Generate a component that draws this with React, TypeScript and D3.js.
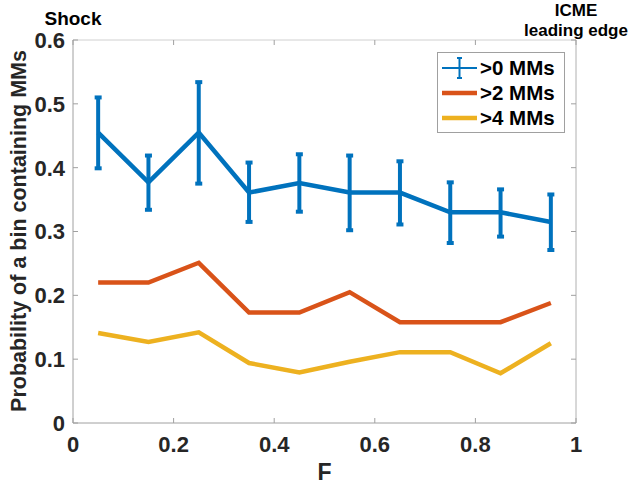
import React, { useEffect, useRef } from "react";
import * as d3 from "d3";

const fBins = [0.05, 0.15, 0.25, 0.35, 0.45, 0.55, 0.65, 0.75, 0.85, 0.95];
const mm0 = [0.455, 0.377, 0.455, 0.361, 0.376, 0.361, 0.361, 0.330, 0.330, 0.315];
const mm0Upper = [0.510, 0.419, 0.534, 0.408, 0.421, 0.419, 0.410, 0.377, 0.366, 0.358];
const mm0Lower = [0.399, 0.334, 0.375, 0.315, 0.331, 0.302, 0.311, 0.282, 0.292, 0.271];
const mm2 = [0.220, 0.220, 0.251, 0.173, 0.173, 0.205, 0.158, 0.158, 0.158, 0.188];
const mm4 = [0.141, 0.127, 0.142, 0.094, 0.079, 0.096, 0.111, 0.111, 0.078, 0.125];
const xTicks = [0, 0.2, 0.4, 0.6, 0.8, 1];
const yTicks = [0, 0.1, 0.2, 0.3, 0.4, 0.5, 0.6];
const legendLabels = [">0 MMs", ">2 MMs", ">4 MMs"];
const colors = ["#0072BD", "#D95319", "#EDB120"];

export default function App() {
  const ref = useRef<SVGSVGElement>(null);
  useEffect(() => {
    const svg = d3.select(ref.current);
    svg.selectAll("*").remove();
    const L = 73, R = 576, T = 40, B = 423;
    const x = d3.scaleLinear().domain([0, 1]).range([L, R]);
    const y = d3.scaleLinear().domain([0, 0.6]).range([B, T]);
    const font = "'Liberation Sans', Arial, Helvetica, sans-serif";
    const txt = "#262626";

    // axes box
    svg.append("line").attr("x1", L).attr("x2", R).attr("y1", T).attr("y2", T).attr("stroke", "#d0d0d0").attr("stroke-width", 1);
    svg.append("line").attr("x1", R).attr("x2", R).attr("y1", T).attr("y2", B).attr("stroke", "#b0b0b0").attr("stroke-width", 1);
    svg.append("line").attr("x1", L).attr("x2", R).attr("y1", B).attr("y2", B).attr("stroke", "#a0a0a0").attr("stroke-width", 1);
    svg.append("line").attr("x1", L).attr("x2", L).attr("y1", T).attr("y2", B).attr("stroke", "#a0a0a0").attr("stroke-width", 1);

    // ticks
    xTicks.forEach((t) => {
      svg.append("line").attr("x1", x(t)).attr("x2", x(t)).attr("y1", B).attr("y2", B - 5).attr("stroke", "#a0a0a0");
      svg.append("line").attr("x1", x(t)).attr("x2", x(t)).attr("y1", T).attr("y2", T + 5).attr("stroke", "#a0a0a0");
      svg.append("text").attr("x", x(t)).attr("y", 452).attr("text-anchor", "middle")
        .attr("font-family", font).attr("font-weight", "bold").attr("font-size", 22).attr("fill", txt)
        .text(String(t));
    });
    yTicks.forEach((t) => {
      svg.append("line").attr("x1", L).attr("x2", L + 5).attr("y1", y(t)).attr("y2", y(t)).attr("stroke", "#a0a0a0");
      svg.append("line").attr("x1", R).attr("x2", R - 5).attr("y1", y(t)).attr("y2", y(t)).attr("stroke", "#a0a0a0");
      svg.append("text").attr("x", 65).attr("y", y(t)).attr("dy", "0.36em").attr("text-anchor", "end")
        .attr("font-family", font).attr("font-weight", "bold").attr("font-size", 22).attr("fill", txt)
        .text(String(t));
    });

    // labels
    svg.append("text").attr("x", x(0.5)).attr("y", 480).attr("text-anchor", "middle")
      .attr("font-family", font).attr("font-weight", "bold").attr("font-size", 23).attr("fill", txt).text("F");
    svg.append("text").attr("transform", `translate(26,${(47 + 415) / 2}) rotate(-90)`).attr("text-anchor", "middle")
      .attr("font-family", font).attr("font-weight", "bold").attr("font-size", 21.5).attr("fill", txt)
      .text("Probability of a bin containing MMs");
    svg.append("text").attr("x", x(0)).attr("y", 25).attr("text-anchor", "middle")
      .attr("font-family", font).attr("font-weight", "bold").attr("font-size", 19).attr("fill", "#000").text("Shock");
    svg.append("text").attr("x", x(1)).attr("y", 16).attr("text-anchor", "middle")
      .attr("font-family", font).attr("font-weight", "bold").attr("font-size", 17).attr("fill", "#000").text("ICME");
    svg.append("text").attr("x", x(1)).attr("y", 35.5).attr("text-anchor", "middle")
      .attr("font-family", font).attr("font-weight", "bold").attr("font-size", 17).attr("fill", "#000").text("leading edge");

    const line = d3.line<number>().x((_, i) => x(fBins[i])).y((d) => y(d));
    svg.append("path").attr("d", line(mm4)).attr("fill", "none").attr("stroke", colors[2]).attr("stroke-width", 4.5).attr("stroke-linejoin", "miter");
    svg.append("path").attr("d", line(mm2)).attr("fill", "none").attr("stroke", colors[1]).attr("stroke-width", 4.5).attr("stroke-linejoin", "miter");

    // error bars
    const eb = svg.append("g").attr("stroke", colors[0]).attr("stroke-width", 4);
    fBins.forEach((f, i) => {
      eb.append("line").attr("x1", x(f)).attr("x2", x(f)).attr("y1", y(mm0Upper[i])).attr("y2", y(mm0Lower[i]));
      eb.append("line").attr("x1", x(f) - 3.5).attr("x2", x(f) + 3.5).attr("y1", y(mm0Upper[i])).attr("y2", y(mm0Upper[i]));
      eb.append("line").attr("x1", x(f) - 3.5).attr("x2", x(f) + 3.5).attr("y1", y(mm0Lower[i])).attr("y2", y(mm0Lower[i]));
    });
    svg.append("path").attr("d", line(mm0)).attr("fill", "none").attr("stroke", colors[0]).attr("stroke-width", 4.5).attr("stroke-linejoin", "miter");

    // legend
    const lg = svg.append("g");
    lg.append("rect").attr("x", 437.5).attr("y", 52.5).attr("width", 127).attr("height", 80)
      .attr("fill", "#fff").attr("stroke", "#a0a0a0").attr("stroke-width", 1);
    const rowsY = [68, 93, 118];
    legendLabels.forEach((lab, i) => {
      const ry = rowsY[i];
      lg.append("line").attr("x1", 442).attr("x2", 477).attr("y1", ry).attr("y2", ry)
        .attr("stroke", colors[i]).attr("stroke-width", i === 0 ? 2 : 4.5);
      if (i === 0) {
        lg.append("line").attr("x1", 459.5).attr("x2", 459.5).attr("y1", ry - 10).attr("y2", ry + 10).attr("stroke", colors[0]).attr("stroke-width", 2);
        lg.append("line").attr("x1", 457).attr("x2", 462).attr("y1", ry - 10).attr("y2", ry - 10).attr("stroke", colors[0]).attr("stroke-width", 2);
        lg.append("line").attr("x1", 457).attr("x2", 462).attr("y1", ry + 10).attr("y2", ry + 10).attr("stroke", colors[0]).attr("stroke-width", 2);
      }
      lg.append("text").attr("x", 480).attr("y", ry).attr("dy", "0.36em")
        .attr("font-family", font).attr("font-weight", "bold").attr("font-size", 20.5).attr("fill", "#000").text(lab);
    });
  }, []);
  return (
    <svg ref={ref} width={640} height={485} style={{ position: "absolute", left: 0, top: 0, background: "#fff" }} />
  );
}
